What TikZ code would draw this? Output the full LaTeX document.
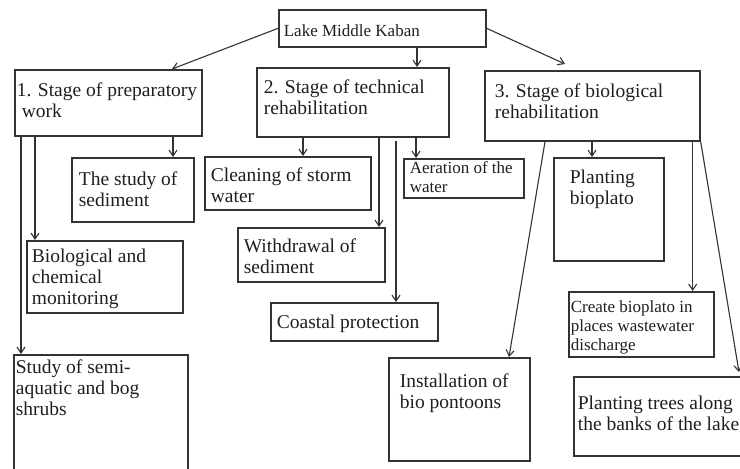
\documentclass[tikz,border=0pt]{standalone}
\usepackage{fontspec}
\setmainfont{Liberation Serif}
\usetikzlibrary{arrows.meta}

\definecolor{linegray}{gray}{0.2}
\definecolor{textgray}{gray}{0.12}

% width, height, left inset, first baseline, text
\newcommand{\boxtext}[5]{\parbox[t][#2pt][t]{#1pt}{\raggedright\leftskip=#3pt\relax
  \vspace*{\dimexpr #4pt-\ht\strutbox\relax}\strut #5}}

\tikzstyle{task} = [rectangle, draw=linegray, line width=1.7pt, anchor=north west, inner sep=0pt, text=textgray, font=\fontsize{19.5}{21}\selectfont]
\tikzstyle{smalltask} = [task, font=\fontsize{17}{19}\selectfont]
\tikzstyle{arrow} = [line width=1.1pt, draw=linegray, ->, >={Straight Barb[length=6pt,width=8pt]}]

\begin{document}
\begin{tikzpicture}[x=1pt, y=-1pt]
\useasboundingbox (0,0) rectangle (740,469);

\node (lake) [smalltask] at (278,9) {\boxtext{207}{37}{5}{27}{Lake Middle Kaban}};

% stages
\node (prep) [task] at (14,69) {\boxtext{187}{66}{2}{27}{1. Stage of preparatory\\\hspace*{5pt}work}};
\node (tech) [task] at (256,67) {\boxtext{192}{69}{7}{26}{2. Stage of technical\\rehabilitation}};
\node (bio) [task] at (484,70) {\boxtext{215}{70}{10}{27}{3. Stage of biological\\rehabilitation}};

% preparatory work
\node (sediment) [task] at (71,157) {\boxtext{122}{64}{7}{28}{The study of\\sediment}};
\node (monitor) [task] at (26,240) {\boxtext{156}{72}{5}{22}{Biological and\\chemical\\monitoring}};
\node (shrubs) [task] at (13,354) {\boxtext{174}{118}{2}{19}{Study of semi-\\aquatic and bog\\shrubs}};

% technical rehabilitation
\node (storm) [task] at (204,156) {\boxtext{166}{53}{6}{25}{Cleaning of storm\\water}};
\node (withdraw) [task] at (237,227) {\boxtext{147}{54}{6}{25}{Withdrawal of\\sediment}};
\node (coast) [task] at (270,302) {\boxtext{167}{38}{6}{26}{Coastal protection}};
\node (aeration) [smalltask] at (403,158) {\boxtext{120}{39}{6}{15}{Aeration of the\\water}};

% biological rehabilitation
\node (planting) [task] at (553,157) {\boxtext{110}{103}{16}{26}{Planting\\bioplato}};
\node (create) [smalltask] at (568,291) {\boxtext{145}{65}{2}{21}{Create bioplato in\\places wastewater\\discharge}};
\node (pontoons) [task] at (388,357) {\boxtext{141}{103}{11}{30}{Installation of\\bio pontoons}};
\node (trees) [task] at (573,376) {\boxtext{172}{79}{4}{33}{Planting trees along\\the banks of the lake}};

\draw [arrow] (lake.west) -- ([xshift=158pt]prep.north west);
\draw [arrow] ([xshift=139pt]lake.south west) coordinate (l2) -- (l2 |- tech.north);
\draw [arrow] (lake.east) -- ([xshift=81pt,yshift=6pt]bio.north west);

\draw [arrow] ([xshift=159pt]prep.south west) coordinate (p1) -- (p1 |- sediment.north);
\draw [arrow] ([xshift=21pt]prep.south west) coordinate (p2) -- (p2 |- monitor.north);
\draw [arrow] ([xshift=7pt]prep.south west) coordinate (p3) -- (p3 |- shrubs.north);

\draw [arrow] ([xshift=47pt]tech.south west) coordinate (t1) -- (t1 |- storm.north);
\draw [arrow] ([xshift=123pt]tech.south west) coordinate (t2) -- (t2 |- withdraw.north);
\draw [arrow] ([xshift=140pt,yshift=-3pt]tech.south west) coordinate (t3) -- (t3 |- coast.north);
\draw [arrow] ([xshift=160pt]tech.south west) coordinate (t4) -- (t4 |- aeration.north);

\draw [arrow] ([xshift=61pt]bio.south west) -- ([xshift=121pt]pontoons.north west);
\draw [arrow] ([xshift=108pt]bio.south west) coordinate (b2) -- (b2 |- planting.north);
\draw [arrow] ([xshift=-8pt]bio.south east) coordinate (b3) -- (b3 |- create.north);
\draw [arrow] (bio.south east) -- ([xshift=166pt,yshift=4pt]trees.north west);
\end{tikzpicture}
\end{document}
